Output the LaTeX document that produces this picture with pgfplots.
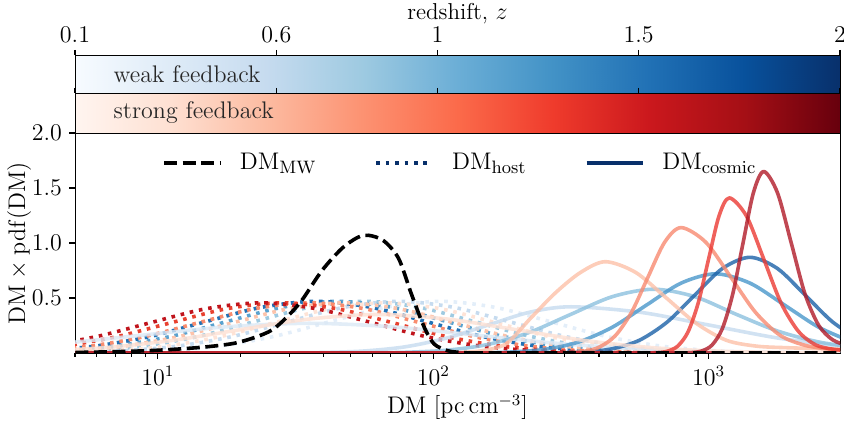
\documentclass[border=0pt]{standalone}
\usepackage{pgfplots}
\pgfplotsset{compat=1.18}
\definecolor{navy}{HTML}{08306B}
% host (dotted) colours
\definecolor{hb0}{HTML}{E3EEF9}
\definecolor{hb1}{HTML}{C6DBEF}
\definecolor{hb2}{HTML}{9ECAE1}
\definecolor{hb3}{HTML}{5AA2CF}
\definecolor{hb4}{HTML}{2171B5}
\definecolor{hr0}{HTML}{FEE3D6}
\definecolor{hr1}{HTML}{FCC3AB}
\definecolor{hr2}{HTML}{F98C6E}
\definecolor{hr3}{HTML}{E8412F}
\definecolor{hr4}{HTML}{C0141C}
% cosmic (solid) colours
\definecolor{cb0}{HTML}{DBE8F5}
\definecolor{cb1}{HTML}{C6DBEF}
\definecolor{cb2}{HTML}{8CC0DE}
\definecolor{cb3}{HTML}{4A97CB}
\definecolor{cb4}{HTML}{1C62A8}
\definecolor{cr0}{HTML}{FDE0D3}
\definecolor{cr1}{HTML}{FCC0A8}
\definecolor{cr2}{HTML}{F88A70}
\definecolor{cr3}{HTML}{EB3A33}
\definecolor{cr4}{HTML}{B01A28}
\pgfplotsset{
  colormap={blues}{rgb255=(247,251,255) rgb255=(222,235,247) rgb255=(198,219,239) rgb255=(158,202,225) rgb255=(107,174,214) rgb255=(66,146,198) rgb255=(33,113,181) rgb255=(8,81,156) rgb255=(8,48,107)},
  colormap={reds}{rgb255=(255,245,240) rgb255=(254,224,210) rgb255=(252,187,161) rgb255=(252,146,114) rgb255=(251,106,74) rgb255=(239,59,44) rgb255=(203,24,29) rgb255=(165,15,21) rgb255=(103,0,13)},
}
\tikzset{
  host/.style={line width=1.8pt, line cap=butt, dash pattern=on 1.8pt off 2.9pt, smooth},
  cosmic/.style={line width=1.8pt, opacity=0.8, smooth, line join=round},
}
\newcommand{\tfont}{\fontsize{11.5}{13}\selectfont}
\begin{document}
\begin{tikzpicture}
\useasboundingbox (0,0) rectangle (422pt,210.5pt);
% ---------------- weak feedback colour bar
\begin{axis}[at={(37.5pt,164pt)}, anchor=south west, scale only axis,
  width=382.5pt, height=19pt,
  xmin=0.1, xmax=2, ymin=0, ymax=1, axis on top,
  xtick={0.1,0.6,1,1.5,2},
  xtick pos=right, xticklabel pos=right, ytick=\empty, tick align=outside,
  major tick length=2.5pt, tick style={black, line width=0.6pt},
  xlabel={redshift, $z$}, ticklabel style={font=\tfont}, label style={font=\tfont},
  xlabel style={yshift=-5pt},
  colormap name=blues, point meta min=0.1, point meta max=2]
\addplot[surf, shader=interp, mesh/rows=2, point meta=x] coordinates {
 (0.1,0) (0.3375,0) (0.575,0) (0.8125,0) (1.05,0) (1.2875,0) (1.525,0) (1.7625,0) (2,0)
 (0.1,1) (0.3375,1) (0.575,1) (0.8125,1) (1.05,1) (1.2875,1) (1.525,1) (1.7625,1) (2,1)};
\node[anchor=west, font=\fontsize{12}{14}\selectfont, text=black!85, inner sep=0pt] at (rel axis cs:0.05,0.5) {weak feedback};
\end{axis}
% ---------------- strong feedback colour bar
\begin{axis}[at={(37.5pt,144pt)}, anchor=south west, scale only axis,
  width=382.5pt, height=20pt,
  xmin=0.1, xmax=2, ymin=0, ymax=1, axis on top,
  xtick={0.1,0.6,1,1.5,2}, xticklabels={},
  xtick pos=right, ytick=\empty, tick align=outside,
  major tick length=2.5pt, tick style={black, line width=0.6pt},
  colormap name=reds, point meta min=0.1, point meta max=2]
\addplot[surf, shader=interp, mesh/rows=2, point meta=x] coordinates {
 (0.1,0) (0.3375,0) (0.575,0) (0.8125,0) (1.05,0) (1.2875,0) (1.525,0) (1.7625,0) (2,0)
 (0.1,1) (0.3375,1) (0.575,1) (0.8125,1) (1.05,1) (1.2875,1) (1.525,1) (1.7625,1) (2,1)};
\node[anchor=west, font=\fontsize{12}{14}\selectfont, text=black!85, inner sep=0pt] at (rel axis cs:0.05,0.5) {strong feedback};
\end{axis}
% ---------------- main panel
\begin{axis}[at={(37.5pt,34pt)}, anchor=south west, scale only axis,
  width=382.5pt, height=110pt,
  xmode=log, xmin=5, xmax=3000, ymin=0, ymax=2,
  ytick={0.5,1,1.5,2},
  yticklabel style={/pgf/number format/.cd, fixed, fixed zerofill, precision=1},
  tick pos=left, tick align=outside, major tick length=3pt, minor tick length=1.8pt,
  tick style={black, line width=0.6pt},
  ticklabel style={font=\tfont}, label style={font=\tfont},
  xlabel={$\mathrm{DM}\ [\mathrm{pc\,cm^{-3}}]$},
  ylabel={$\mathrm{DM}\times\mathrm{pdf}(\mathrm{DM})$},
  ylabel shift=-6.5pt, xlabel shift=-2pt,
  legend style={at={(0.505,0.864)}, anchor=center, draw=none, fill=none,
    legend columns=3, font=\fontsize{13}{15}\selectfont,
    /tikz/every even column/.append style={column sep=27pt},
    /tikz/every odd column/.append style={column sep=7pt}},
  legend image code/.code={\draw[#1] (0pt,0pt) -- (28pt,0pt);},
]
\addlegendimage{black, line width=1.8pt, dash pattern=on 6.5pt off 2.8pt}
\addlegendentry{$\mathrm{DM}_\mathrm{MW}$}
\addlegendimage{navy, line width=1.8pt, line cap=butt, dash pattern=on 1.8pt off 2.9pt}
\addlegendentry{$\mathrm{DM}_\mathrm{host}$}
\addlegendimage{navy, line width=1.8pt}
\addlegendentry{$\mathrm{DM}_\mathrm{cosmic}$}

% ===== host, weak feedback (blue, dotted)
\addplot[host, hb0, forget plot] coordinates {(4.2170,0.001) (6.6834,0.0052) (10.593,0.0206) (16.788,0.0636) (26.607,0.1526) (42.170,0.2851) (66.834,0.4148) (105.93,0.47) (167.88,0.4148) (266.07,0.2851) (421.70,0.1526) (668.34,0.0636) (1059.3,0.0206) (1678.8,0.0052) (2700,0.0008) (3100,0)};
\addplot[host, hb1, forget plot] coordinates {(4.7315,0.0052) (7.4989,0.0206) (11.885,0.0636) (18.836,0.1526) (29.854,0.2851) (47.315,0.4148) (74.989,0.47) (118.85,0.4148) (188.36,0.2851) (298.54,0.1526) (473.15,0.0636) (749.89,0.0206) (1188.5,0.0052) (1900,0.0008) (2300,0) (3100,0)};
\addplot[host, hb2, forget plot] coordinates {(3.5481,0.0052) (5.6234,0.0206) (8.9125,0.0636) (14.125,0.1526) (22.387,0.2851) (35.481,0.4148) (56.234,0.47) (89.125,0.4148) (141.25,0.2851) (223.87,0.1526) (354.81,0.0636) (562.34,0.0206) (891.25,0.0052) (1400,0.0008) (1800,0) (3100,0)};
\addplot[host, hb3, forget plot] coordinates {(2.8184,0.0052) (4.4668,0.0206) (7.0795,0.0636) (11.220,0.1526) (17.783,0.2851) (28.184,0.4148) (44.668,0.47) (70.795,0.4148) (112.20,0.2851) (177.83,0.1526) (281.84,0.0636) (446.68,0.0206) (707.95,0.0052) (1100,0.0008) (1400,0) (3100,0)};
\addplot[host, hb4, forget plot] coordinates {(2.3714,0.0052) (3.7584,0.0206) (5.9566,0.0636) (9.4406,0.1526) (14.962,0.2851) (23.714,0.4148) (37.584,0.47) (59.566,0.4148) (94.406,0.2851) (149.62,0.1526) (237.14,0.0636) (375.84,0.0206) (595.66,0.0052) (950,0.0008) (1200,0) (3100,0)};
% ===== host, strong feedback (red, dotted)
\addplot[host, hr0, forget plot] coordinates {(4.2170,0.0051) (6.6834,0.0200) (10.593,0.0617) (16.788,0.1481) (26.607,0.2766) (42.170,0.4024) (66.834,0.456) (105.93,0.4024) (167.88,0.2766) (266.07,0.1481) (421.70,0.0617) (668.34,0.0200) (1059.3,0.0051) (1700,0.0008) (2100,0) (3100,0)};
\addplot[host, hr1, forget plot] coordinates {(2.9854,0.0051) (4.7315,0.0200) (7.4989,0.0617) (11.885,0.1481) (18.836,0.2766) (29.854,0.4024) (47.315,0.456) (74.989,0.4024) (118.85,0.2766) (188.36,0.1481) (298.54,0.0617) (473.15,0.0200) (749.89,0.0051) (1200,0.0008) (1500,0) (3100,0)};
\addplot[host, hr2, forget plot] coordinates {(2.2387,0.0051) (3.5481,0.0200) (5.6234,0.0617) (8.9125,0.1481) (14.125,0.2766) (22.387,0.4024) (35.481,0.456) (56.234,0.4024) (89.125,0.2766) (141.25,0.1481) (223.87,0.0617) (354.81,0.0200) (562.34,0.0051) (900,0.0008) (1150,0) (3100,0)};
\addplot[host, hr3, forget plot] coordinates {(1.7783,0.0051) (2.8184,0.0200) (4.4668,0.0617) (7.0795,0.1481) (11.220,0.2766) (17.783,0.4024) (28.184,0.456) (44.668,0.4024) (70.795,0.2766) (112.20,0.1481) (177.83,0.0617) (281.84,0.0200) (446.68,0.0051) (700,0.0008) (900,0) (3100,0)};
\addplot[host, hr4, forget plot] coordinates {(1.4962,0.0051) (2.3714,0.0200) (3.7584,0.0617) (5.9566,0.1481) (9.4406,0.2766) (14.962,0.4024) (23.714,0.456) (37.584,0.4024) (59.566,0.2766) (94.406,0.1481) (149.62,0.0617) (237.14,0.0200) (375.84,0.0051) (600,0.0008) (780,0) (3100,0)};

% ===== cosmic, weak feedback (blue, solid)
\addplot[cosmic, cb0, forget plot] coordinates {(2.2387,0.0365) (4.4668,0.0877) (8.9125,0.1638) (17.783,0.2383) (35.481,0.27) (70.795,0.2383) (141.25,0.1638) (281.84,0.0877) (562.34,0.0365) (1122.0,0.0119) (2238.7,0.0030) (3100,0.001)};
\addplot[cosmic, cb1, forget plot] coordinates {(4,0) (20,0) (28,0.0008) (39.811,0.0047) (56.234,0.0184) (79.433,0.0568) (112.20,0.1364) (158.49,0.2547) (223.87,0.3707) (316.23,0.42) (562.34,0.3707) (1000,0.2547) (1778.3,0.1364) (3162.3,0.0568)};
\addplot[cosmic, cb2, forget plot] coordinates {(4,0) (45,0) (60,0.0015) (79.433,0.0064) (112.20,0.0255) (158.49,0.0785) (223.87,0.1883) (316.23,0.3518) (446.68,0.5119) (630.96,0.58) (891.25,0.5119) (1258.9,0.3518) (1778.3,0.20) (2511.9,0.10) (3548.1,0.045)};
\addplot[cosmic, cb3, forget plot] coordinates {(4,0) (120,0) (150,0.0015) (188.36,0.0080) (251.19,0.0316) (334.97,0.0974) (446.68,0.2338) (595.66,0.4367) (794.33,0.6354) (1059.3,0.72) (1412.5,0.6354) (1883.6,0.4367) (2511.9,0.2338) (3349.7,0.0974)};
\addplot[cosmic, cb4, forget plot] coordinates {(4,0) (230,0) (285,0.0018) (354.81,0.0097) (446.68,0.0382) (562.34,0.1177) (707.95,0.2825) (891.25,0.5277) (1122.0,0.7678) (1412.5,0.87) (1778.3,0.7678) (2238.7,0.5277) (2818.4,0.2825) (3548.1,0.1177)};
% ===== cosmic, strong feedback (red, solid)
\addplot[cosmic, cr0, forget plot] coordinates {(3.5481,0.0154) (6.3096,0.0474) (11.220,0.1136) (19.953,0.2123) (35.481,0.3089) (63.096,0.35) (112.20,0.3089) (199.53,0.2123) (354.81,0.1136) (630.96,0.0474) (1122.0,0.0154) (1995.3,0.0039) (3100,0.001)};
\addplot[cosmic, cr1, forget plot] coordinates {(4,0) (80,0) (100,0.0005) (121.62,0.004) (149.62,0.02) (184.07,0.085) (226.46,0.32) (278.61,0.55) (342.77,0.7325) (421.70,0.83) (543.24,0.7325) (699.85,0.5034) (901.57,0.2695) (1161.4,0.115) (1496.2,0.062) (1927.5,0.048) (2483.1,0.04) (3198.9,0.032)};
\addplot[cosmic, cr2, forget plot] coordinates {(4,0) (230,0) (265,0.0005) (302.00,0.003) (346.74,0.0127) (398.11,0.05) (457.08,0.1542) (524.80,0.3702) (602.56,0.6914) (691.84,1.006) (794.33,1.14) (977.24,1.006) (1202.3,0.6914) (1479.1,0.3702) (1819.7,0.16) (2238.7,0.07) (2754.3,0.035) (3388.5,0.02)};
\addplot[cosmic, cr3, forget plot] coordinates {(4,0) (530,0) (600,0.0008) (649.38,0.0031) (707.95,0.0157) (771.79,0.0619) (841.40,0.1908) (917.27,0.4578) (1000,0.8552) (1090.2,1.2443) (1188.5,1.41) (1372.4,1.2443) (1584.9,0.8552) (1830.2,0.4578) (2113.5,0.20) (2440.6,0.075) (2818.4,0.035) (3254.6,0.02)};
\addplot[cosmic, cr4, forget plot] coordinates {(4,0) (740,0) (810,0.0008) (865.97,0.0036) (944.06,0.0183) (1029.2,0.0724) (1122.0,0.2232) (1223.2,0.5358) (1333.5,1.0007) (1453.8,1.4561) (1584.9,1.65) (1778.3,1.4561) (1995.3,1.0007) (2238.7,0.5358) (2511.9,0.25) (2818.4,0.12) (3162.3,0.07)};

% ===== Milky Way (black, dashed)
\addplot[black, line width=1.8pt, dash pattern=on 6.5pt off 2.8pt, smooth, forget plot] coordinates {(5.012,0.005) (7.080,0.012) (10,0.025) (14.125,0.05) (18.62,0.085) (22.39,0.14) (26.0,0.21) (29.51,0.33) (33.34,0.48) (39.45,0.75) (46.56,0.95) (53.09,1.05) (58.21,1.07) (66.07,1.02) (74.82,0.86) (83.18,0.54) (92.9,0.23) (100.9,0.08) (113.2,0.02) (125.9,0.005) (141.3,0) (170,0) (3000,0)};
\end{axis}
\end{tikzpicture}
\end{document}
